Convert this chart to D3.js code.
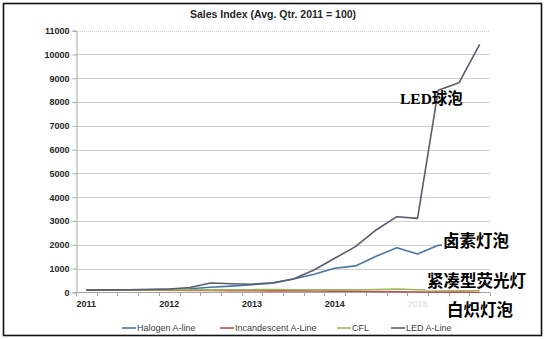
<!DOCTYPE html>
<html>
<head>
<meta charset="utf-8">
<script src="https://cdn.jsdelivr.net/npm/d3@7"></script>
<style>
  html, body { margin: 0; padding: 0; background: #fff; }
  svg { display: block; }
</style>
</head>
<body>
<svg id="chart" width="546" height="339"></svg>
<script>
// Quarterly sales index, 2011 Q1 – 2015 Q4 (average quarter of 2011 = 100)
const quarters = d3.range(20).map(i => `${2011 + Math.floor(i / 4)} Q${i % 4 + 1}`);
const yearLabels = ["2011", "2012", "2013", "2014", "2015"];
const yTicks = [0, 1000, 2000, 3000, 4000, 5000, 6000, 7000, 8000, 9000, 10000, 11000];

const halogen      = [90, 100, 110, 120, 130, 150, 210, 260, 320, 380, 560, 760, 1010, 1110, 1520, 1870, 1610, 1980, 2010, 2040];
const incandescent = [100, 98, 95, 92, 88, 82, 76, 70, 65, 60, 58, 55, 50, 42, 32, 22, 12, 8, 6, 5];
const cfl          = [95, 100, 105, 100, 105, 110, 100, 105, 110, 115, 110, 105, 100, 110, 120, 140, 110, 95, 90, 90];
const led          = [90, 100, 110, 120, 140, 200, 390, 360, 340, 400, 560, 940, 1430, 1920, 2620, 3180, 3110, 8500, 8810, 10430];

const seriesNames  = ["Halogen A-line", "Incandescent A-Line", "CFL", "LED A-Line"];
const seriesColors = ["#4a74a8", "#c0504d", "#9bbb59", "#5b5b6e"];
const seriesData   = [halogen, incandescent, cfl, led];

// Callout labels placed next to the curves
const calloutText = ["LED球泡", "卤素灯泡", "紧凑型荧光灯", "白炽灯泡"];

const svg = d3.select("#chart");
const plot = { left: 76, right: 490, top: 30.7, bottom: 292.3 };

// outer frame
svg.append("rect")
  .attr("x", 3.5).attr("y", 3.5).attr("width", 538).attr("height", 332)
  .attr("fill", "#fff").attr("stroke", "#111").attr("stroke-width", 1.6);

// title
svg.append("text")
  .attr("x", 273).attr("y", 18)
  .attr("text-anchor", "middle")
  .attr("font-family", "'Liberation Sans', Arial, sans-serif")
  .attr("font-weight", "bold").attr("font-size", 10.5)
  .attr("fill", "#262626")
  .text("Sales Index (Avg. Qtr. 2011 = 100)");

const x = d3.scaleBand().domain(d3.range(quarters.length)).range([plot.left, plot.right]).paddingInner(0).paddingOuter(0);
const cx = i => x(i) + x.bandwidth() / 2;
const y = d3.scaleLinear().domain([0, 11000]).range([plot.bottom, plot.top]);

// horizontal gridlines
svg.append("g").selectAll("line")
  .data(yTicks.filter(v => v > 0))
  .join("line")
  .attr("x1", plot.left).attr("x2", plot.right)
  .attr("y1", d => Math.round(y(d)) + 0.5).attr("y2", d => Math.round(y(d)) + 0.5)
  .attr("stroke", "#cfcfcf").attr("stroke-width", 1)
  .attr("stroke-dasharray", d => d === 11000 ? "1,1" : null);

// y axis
const yAxis = d3.axisLeft(y).tickValues(yTicks).tickSize(4).tickPadding(3).tickFormat(d3.format("d"));
const gy = svg.append("g").attr("transform", `translate(${plot.left + 0.5},0)`).call(yAxis);
gy.select(".domain").attr("stroke", "#a6a6a6");
gy.selectAll(".tick line").attr("stroke", "#a6a6a6");
gy.selectAll(".tick text")
  .attr("font-family", "'Liberation Sans', Arial, sans-serif")
  .attr("font-weight", "bold").attr("font-size", 9).attr("fill", "#262626");

// x axis: baseline, minor ticks at quarter boundaries, year labels
const gx = svg.append("g");
gx.append("line")
  .attr("x1", plot.left).attr("x2", plot.right)
  .attr("y1", Math.round(y(0)) + 0.5).attr("y2", Math.round(y(0)) + 0.5)
  .attr("stroke", "#a6a6a6");
gx.selectAll(".qtick")
  .data(d3.range(quarters.length + 1))
  .join("line").attr("class", "qtick")
  .attr("x1", i => Math.round(plot.left + i * x.bandwidth()) + 0.5)
  .attr("x2", i => Math.round(plot.left + i * x.bandwidth()) + 0.5)
  .attr("y1", Math.round(y(0)) + 0.5).attr("y2", Math.round(y(0)) + 4)
  .attr("stroke", "#a6a6a6");
gx.selectAll(".ylabel")
  .data(yearLabels)
  .join("text").attr("class", "ylabel")
  .attr("x", (d, k) => cx(k * 4)).attr("y", 307)
  .attr("text-anchor", "middle")
  .attr("font-family", "'Liberation Sans', Arial, sans-serif")
  .attr("font-weight", "bold").attr("font-size", 9)
  .attr("fill", (d, k) => k === 4 ? "#e4e4e4" : "#262626")
  .text(d => d);

// series lines
const line = d3.line().x((d, i) => cx(i)).y(d => y(d));
svg.append("g").selectAll("path")
  .data(seriesData)
  .join("path")
  .attr("d", d => line(d))
  .attr("fill", "none")
  .attr("stroke", (d, k) => seriesColors[k])
  .attr("stroke-width", 1.6)
  .attr("stroke-linejoin", "round");

// legend
const legendX = [122, 220, 337, 391];
const lg = svg.append("g").selectAll("g")
  .data(seriesNames)
  .join("g")
  .attr("transform", (d, k) => `translate(${legendX[k]},328)`);
lg.append("line")
  .attr("x1", 0).attr("x2", 14).attr("y1", 0).attr("y2", 0)
  .attr("stroke", (d, k) => seriesColors[k]).attr("stroke-width", 1.6);
lg.append("text")
  .attr("x", 15).attr("y", 3.3)
  .attr("font-family", "'Liberation Sans', Arial, sans-serif")
  .attr("font-size", 9).attr("fill", "#404040")
  .text(d => d);

// callouts
const cjkFont = "'Liberation Serif', 'Noto Sans CJK SC', serif";
const callouts = [
  { t: calloutText[0], x: 400, y: 104, size: 15.5, bg: false },
  { t: calloutText[1], x: 443, y: 247, size: 16.5, bg: true },
  { t: calloutText[2], x: 427, y: 287, size: 16.5, bg: true },
  { t: calloutText[3], x: 447, y: 316, size: 16.5, bg: true }
];
const cg = svg.append("g").selectAll("g").data(callouts).join("g");
cg.each(function (d) {
  const g = d3.select(this);
  const txt = g.append("text")
    .attr("x", d.x).attr("y", d.y)
    .attr("font-family", cjkFont)
    .attr("font-weight", "bold").attr("font-size", d.size)
    .attr("fill", "#000")
    .text(d.t);
  if (d.bg) {
    const b = txt.node().getBBox();
    g.insert("rect", "text")
      .attr("x", b.x - 1).attr("y", b.y + 1).attr("width", b.width + 2).attr("height", b.height - 2)
      .attr("fill", "#fff");
  }
});
</script>
</body>
</html>
